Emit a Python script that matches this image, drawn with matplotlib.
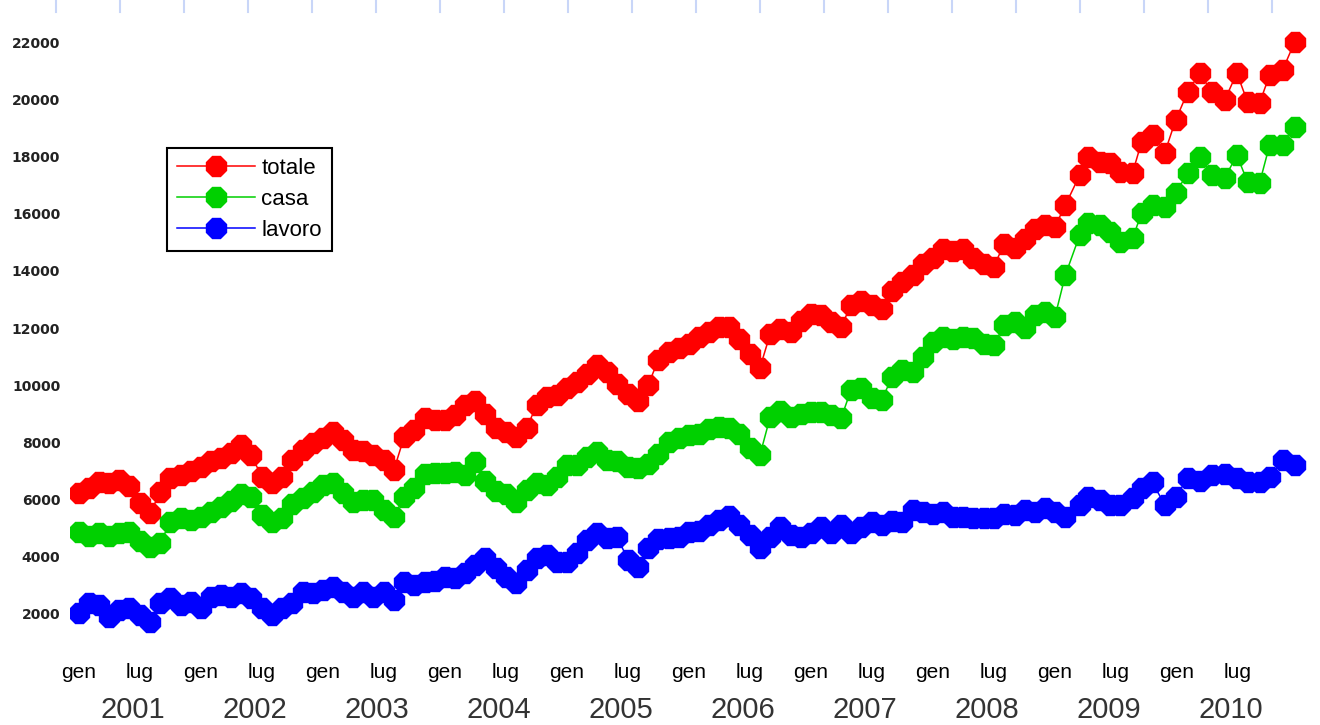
import numpy as np
import pandas as pd
import matplotlib
matplotlib.use('Agg')
from matplotlib import pyplot as plt
from matplotlib.lines import Line2D

# Letture mensili fino a febbraio 2009, poi letture a date irregolari
MESI = pd.date_range('2001-01-01', '2009-02-01', freq='MS')
DATE_FINALI = ['2009-03-16', '2009-04-09', '2009-05-15', '2009-06-14', '2009-07-14',
               '2009-08-21', '2009-09-17', '2009-10-20', '2009-11-25', '2009-12-28',
               '2010-02-02', '2010-03-10', '2010-04-15', '2010-05-24', '2010-06-29',
               '2010-07-31', '2010-09-05', '2010-10-05', '2010-11-13', '2010-12-19']

TOTALE = [6220, 6400, 6620, 6570, 6690, 6480, 5870, 5520, 6250, 6750,
          6870, 7000, 7150, 7350, 7450, 7620, 7910, 7560, 6800, 6570,
          6800, 7385, 7740, 7970, 8150, 8380, 8085, 7735, 7690, 7560,
          7385, 7036, 8200, 8434, 8843, 8784, 8784, 8950, 9300, 9450,
          9000, 8500, 8350, 8200, 8500, 9300, 9580, 9660, 9900, 10100,
          10400, 10700, 10450, 10050, 9700, 9450, 10000, 10900, 11150, 11300,
          11450, 11700, 11850, 12030, 12050, 11600, 11100, 10600, 11800, 11950,
          11850, 12250, 12500, 12450, 12200, 12050, 12800, 12950, 12800, 12650,
          13300, 13600, 13850, 14250, 14450, 14750, 14700, 14750, 14450, 14250,
          14150, 14950, 14800, 15100, 15450, 15600, 15550, 16300,
          17352, 17990, 17800, 17760, 17450, 17430, 18506, 18751, 18121, 19275,
          20254, 20919, 20254, 19975, 20919, 19905, 19870, 20849, 21024, 22003]

CASA = [4880, 4720, 4820, 4720, 4820, 4880, 4560, 4360, 4500, 5200,
        5340, 5300, 5400, 5580, 5750, 5950, 6200, 6080, 5460, 5230,
        5346, 5850, 6050, 6250, 6500, 6570, 6220, 5930, 5990, 5990,
        5640, 5400, 6100, 6400, 6900, 6920, 6920, 6978, 6870, 7327,
        6650, 6300, 6200, 5930, 6320, 6570, 6510, 6800, 7200, 7200,
        7500, 7650, 7385, 7350, 7150, 7100, 7250, 7600, 8000, 8150,
        8260, 8300, 8480, 8550, 8500, 8300, 7800, 7550, 8900, 9100,
        8900, 9000, 9050, 9076, 8950, 8843, 9850, 9900, 9550, 9500,
        10300, 10550, 10450, 11000, 11500, 11700, 11600, 11700, 11650, 11450,
        11407, 12100, 12200, 12000, 12450, 12570, 12400, 13855,
        15254, 15662, 15603, 15370, 15020, 15137, 16023, 16303, 16233, 16722,
        17422, 17981, 17352, 17247, 18051, 17107, 17072, 18401, 18401, 19030]

LAVORO = [2023, 2373, 2315, 1907, 2140, 2198, 1965, 1732, 2373, 2548,
          2315, 2432, 2198, 2606, 2664, 2606, 2723, 2548, 2198, 1965,
          2198, 2373, 2781, 2723, 2839, 2956, 2781, 2606, 2781, 2606,
          2781, 2490, 3131, 3014, 3131, 3150, 3300, 3248, 3423, 3700,
          3950, 3600, 3300, 3072, 3550, 3946, 4063, 3830, 3830, 4122,
          4588, 4821, 4646, 4705, 3900, 3650, 4300, 4620, 4660, 4700,
          4870, 4900, 5100, 5300, 5420, 5100, 4750, 4300, 4700, 5050,
          4750, 4700, 4850, 5050, 4850, 5100, 4850, 5050, 5200, 5100,
          5250, 5200, 5650, 5550, 5500, 5550, 5400, 5400, 5350, 5350,
          5350, 5500, 5450, 5650, 5550, 5700, 5550, 5400,
          5800, 6100, 5980, 5800, 5800, 6050, 6400, 6600, 5812, 6100,
          6750, 6650, 6850, 6900, 6760, 6620, 6620, 6800, 7385, 7210]

SERIE = [('totale', TOTALE, '#ff0000'),
         ('casa', CASA, '#00d000'),
         ('lavoro', LAVORO, '#0000ff')]

ANNI = list(range(2001, 2011))
ETICHETTE_MESI = ['gen', 'lug']


def anno_decimale(d):
    return d.year + (d.dayofyear - 1) / 365.0


def main():
    plt.rcParams['font.family'] = ['Liberation Sans', 'DejaVu Sans']

    date = list(MESI) + list(pd.to_datetime(DATE_FINALI))
    x = np.array([anno_decimale(d) for d in date])

    fig = plt.figure(figsize=(13.2, 7.25), dpi=100)
    ax = fig.add_axes([70 / 1320, 75 / 725, 1250 / 1320, 650 / 725])

    for nome, valori, colore in SERIE:
        ax.plot(x, valori, color=colore, lw=1.1, marker='8', ms=15.5,
                mfc=colore, mec=colore, label=nome)

    ax.set_xlim(2000.926, 2011.172)
    ax.set_ylim(741, 23472)
    for s in ax.spines.values():
        s.set_visible(False)

    # asse y
    ax.set_yticks(range(2000, 22001, 2000))
    ax.tick_params(axis='y', length=0, pad=7, labelsize=10, labelcolor='#222222')
    for lbl in ax.get_yticklabels():
        lbl.set_fontfamily('DejaVu Sans')
        lbl.set_fontweight('bold')

    # asse x: mesi (maggiori) e anni (minori)
    pos_mesi, lab_mesi = [], []
    for a in ANNI:
        pos_mesi += [a, a + 181 / 365]
        lab_mesi += ETICHETTE_MESI
    ax.set_xticks(pos_mesi, labels=lab_mesi)
    ax.set_xticks([a + 0.44 for a in ANNI], labels=[str(a) for a in ANNI], minor=True)
    ax.tick_params(axis='x', which='major', length=0, pad=9, labelsize=15, labelcolor='black')
    ax.tick_params(axis='x', which='minor', length=0, pad=33, labelsize=21, labelcolor='#333333')

    leg = ax.legend(loc='upper left', bbox_to_anchor=(0.0776, 0.7723), borderaxespad=0,
                    fontsize=16, handlelength=3.5, handletextpad=0.3, labelspacing=0.45,
                    borderpad=0.45, fancybox=False, framealpha=1, edgecolor='black')
    leg.get_frame().set_linewidth(1.5)

    # tacche azzurre in alto (residuo dell'immagine originale)
    for px in range(56, 1273, 64):
        fig.add_artist(Line2D([px / 1320, px / 1320], [1, 1 - 12 / 725],
                              transform=fig.transFigure, color='#c9d6f8', lw=1.5))

    fig.savefig('out.png', dpi=100)


if __name__ == "__main__":
    main()
